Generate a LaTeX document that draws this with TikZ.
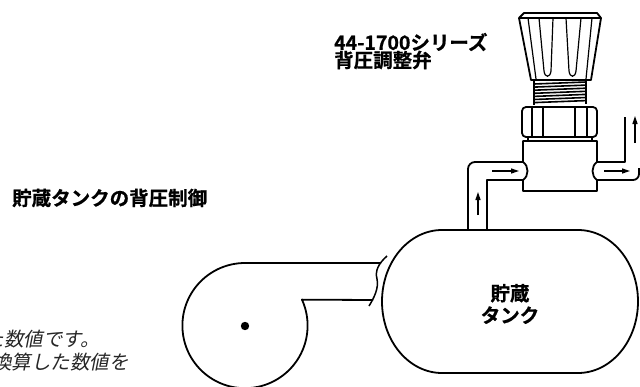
\documentclass[tikz,border=0pt]{standalone}
\usepackage{fontspec}
\usetikzlibrary{arrows.meta}
\newfontfamily\jp[BoldFont={* Bold},BoldFeatures={FakeBold=0.8}]{Noto Sans CJK JP}
\newfontfamily\jpit[FakeSlant=0.2]{Noto Sans CJK JP}
\tikzset{
  ln/.style={line width=1.8pt},
  fine/.style={line width=1.2pt},
  flow/.style={line width=1.3pt, -{Triangle[length=8pt,width=5pt]}},
  lbl/.style={font=\jp\bfseries\fontsize{19.5}{22}\selectfont, inner sep=0pt},
  note/.style={font=\jpit\fontsize{19.5}{22}\selectfont, inner sep=0pt, text=black!85},
}
\begin{document}
\begin{tikzpicture}[x=1pt,y=-1pt,line join=round]
\useasboundingbox (0,0) rectangle (640,386);

% ---- storage tank
\draw[ln] (442,230) -- (578,230)
  arc[start angle=-90,end angle=90,x radius=60,y radius=71.5]
  -- (442,373)
  arc[start angle=90,end angle=270,x radius=60,y radius=71.5] -- cycle;
\node[lbl,align=center] (tanklbl) at (510,304) {貯蔵\\タンク};

% ---- pipe from tank to valve
\draw[ln,rounded corners=7pt] (468,230) -- (468,162) -- (523,162);
\draw[ln] (487,230) -- (487,180) -- (523,180);

% ---- valve body
\draw[ln] (523,162) -- (523,141) -- (597,141) -- (597,162)
  .. controls (591,166) and (591,176) .. (597,180)
  -- (597,191) -- (523,191) -- (523,180)
  .. controls (529,176) and (529,166) .. (523,162);
% neck
\draw[ln] (528,137) -- (528,141) (592,137) -- (592,141);
% hex nut
\draw[ln,rounded corners=4pt] (522,107) rectangle (597,137);
\foreach \x in {532,543,575,587} \draw[ln] (\x,107) -- (\x,137);
% threads
\foreach \i in {0,...,6} \draw[line width=1.6pt,line cap=round] (534,{84+3.1*\i}) -- (586,{82+3.1*\i});
\draw[fine] (534,81) -- (534,105) (586,80) -- (586,104);
% knob
\draw[ln] (524,13) -- (597,13) -- (601,18) -- (591,80) -- (531,80) -- (519,18) -- cycle;
\draw[fine] (519,18) -- (601,18);
\draw[fine] (528,18) -- (536,79);
\draw[fine] (592,18) -- (586,79);
\draw[fine] (539,18) -- (544,71) .. controls (545,78) and (550,78) .. (551,71) -- (553,18);
\draw[fine] (566,18) -- (569,71) .. controls (570,78) and (575,78) .. (576,71) -- (581,18);

% ---- outlet pipe
\draw[ln] (597,162) -- (625,162) -- (625,117);
\draw[ln,rounded corners=6pt] (597,180) -- (639,180) -- (639,168);

% ---- flow arrows
\coordinate (inA) at (492,171); \coordinate (inB) at (519,171);
\coordinate (upA) at (478,215); \coordinate (upB) at (478,192);
\coordinate (outA) at (604,171); \coordinate (outB) at (630,171);
\coordinate (riseA) at (635,143); \coordinate (riseB) at (635,116);
\draw[flow] (inA) -- (inB);
\draw[flow] (upA) -- (upB);
\draw[flow] (outA) -- (outB);
\draw[flow] (riseA) -- (riseB);

% ---- pump
\draw[ln] (381,263) -- (245,263) arc[start angle=270,end angle=-24.5,radius=62.6] -- (373,300);
\fill (245,326) circle[radius=4.2];
\draw[line width=1.5pt] (387,256) .. controls (378,264) and (375,271) .. (377,279)
  .. controls (379,288) and (374,298) .. (369,306);

% ---- labels
\node[lbl,anchor=west] (series) at (334,42) {44-1700シリーズ};
\node[lbl,anchor=west] (bpr) at (334,60) {背圧調整弁};
\node[lbl,anchor=west] (title) at (12,198) {貯蔵タンクの背圧制御};
\node[note,anchor=east] (note1) at (100,339) {た数値です。};
\node[note,anchor=east] (note2) at (129,362) {換算した数値を};
\end{tikzpicture}
\end{document}
